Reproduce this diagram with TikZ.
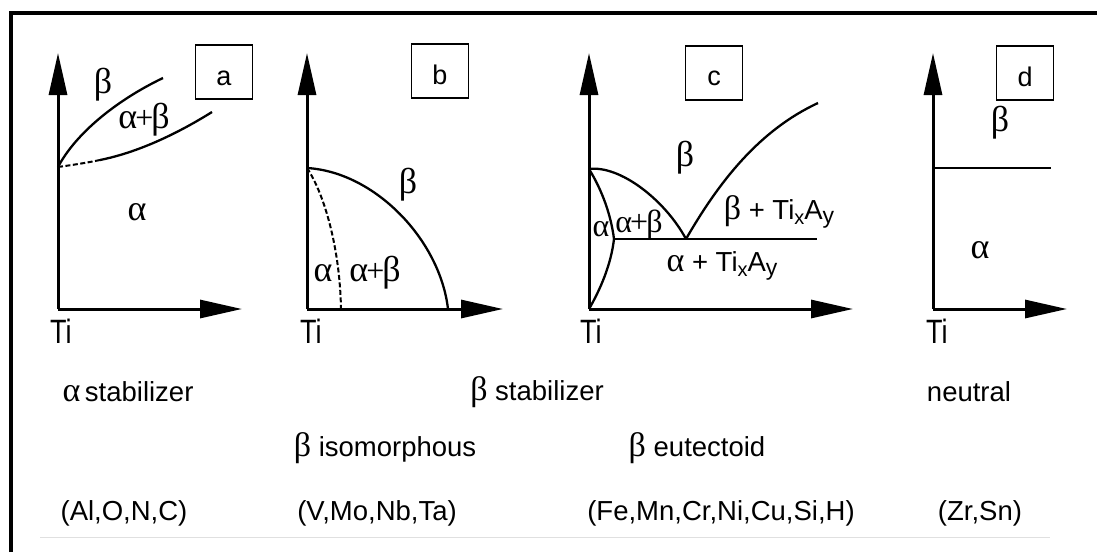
\documentclass[tikz,border=0pt]{standalone}
\usepackage{fontspec}
\setmainfont{Liberation Sans}
\newfontfamily\grk{Liberation Serif}
\usetikzlibrary{arrows.meta}
\tikzset{
  axisline/.style={line width=3pt,-{Triangle[length=42pt,width=18pt]}},
  curve/.style={line width=2.3pt},
  dcurve/.style={line width=2pt,dash pattern=on 5pt off 2.5pt},
  lbox/.style={draw,line width=1.8pt,minimum width=57pt,minimum height=54pt,inner sep=0pt},
  boxlab/.style={inner sep=0pt,font=\fontsize{27}{29}\selectfont},
  gl/.style={inner sep=0pt,font=\grk\fontsize{36}{38}\selectfont},
  tl/.style={inner sep=0pt,font=\fontsize{27.5}{29}\selectfont},
  tilab/.style={inner sep=0pt,font=\fontsize{27}{29}\selectfont},
}
\newcommand{\gsym}[1]{{\grk\fontsize{34}{34}\selectfont #1}}
\newcommand{\apb}{α\kern-2pt{\fontsize{32}{32}\selectfont+}\kern-2pt β}
\newcommand{\TiXA}{Ti\raisebox{-5pt}{\fontsize{20}{20}\selectfont x}A\raisebox{-4pt}{\fontsize{23}{23}\selectfont y}}
\begin{document}
\begin{tikzpicture}[x=1pt,y=-1pt]
\useasboundingbox (0,0) rectangle (1097,552);
\fill[white] (0,0) rectangle (1097,552);
% frame
\draw[line width=4pt] (11,552) -- (11,12.5) -- (1097,12.5);
\draw[line width=0.8pt,black!12] (40,537) -- (1050,537);

% ---------- panel a ----------
\coordinate (oa) at (58,309);
\coordinate (ya) at (58,53);
\coordinate (xa) at (242,309);
\draw[axisline] (oa) -- (ya);
\draw[axisline] (oa) -- (xa);
\coordinate (pa) at (58,167);
\coordinate (pa1) at (163,78);
\coordinate (pa2) at (100,160);
\coordinate (pa3) at (212,112);
\draw[curve] (pa) .. controls (76,133) and (117,100) .. (pa1);
\draw[dcurve] (pa) .. controls (72,165) and (86,163) .. (pa2);
\draw[curve] (pa2) .. controls (140,152) and (180,132) .. (pa3);
\node[lbox] (boxa) at (224,72) {};
\node[boxlab] (la) at (224,78) {a};
\node[gl] (ba) at (103,85) {β};
\node[gl] (aba) at (144,120) {\apb};
\node[gl] (aa) at (137,212) {α};
\node[tilab,anchor=north west] (tia) at (50,319) {\scalebox{1}[1.25]{Ti}};

% ---------- panel b ----------
\coordinate (ob) at (307,309);
\coordinate (yb) at (307,53);
\coordinate (xb) at (503,309);
\draw[axisline] (ob) -- (yb);
\draw[axisline] (ob) -- (xb);
\coordinate (pb) at (307,168);
\coordinate (pb1) at (448,309);
\coordinate (pb2) at (341,309);
\draw[curve] (pb) .. controls (375,172) and (440,240) .. (pb1);
\draw[dcurve] (pb) .. controls (325,195) and (340,250) .. (pb2);
\node[lbox] (boxb) at (440,71) {};
\node[boxlab] (lb) at (440,75) {b};
\node[gl] (bb) at (408,185) {β};
\node[gl] (ab) at (323,273) {α};
\node[gl] (abb) at (375,273) {\apb};
\node[tilab,anchor=north west] (tib) at (300,319) {\scalebox{1}[1.25]{Ti}};

% ---------- panel c ----------
\coordinate (oc) at (589,309);
\coordinate (yc) at (589,53);
\coordinate (xc) at (853,309);
\draw[axisline] (oc) -- (yc);
\draw[axisline] (oc) -- (xc);
\coordinate (pc) at (589,169);
\coordinate (ec) at (686,239);
\coordinate (lc) at (614,239);
\coordinate (rc) at (817,239);
\coordinate (tc) at (818,103);
\draw[curve] (pc) .. controls (620,165) and (665,200) .. (ec);
\draw[curve] (pc) .. controls (602,190) and (611,215) .. (lc);
\draw[curve] (lc) .. controls (611,265) and (600,290) .. (oc);
\draw[curve] (lc) -- (rc);
\draw[curve] (ec) .. controls (720,180) and (760,130) .. (tc);
\node[lbox] (boxc) at (714,73) {};
\node[boxlab] (lcl) at (714,78) {c};
\node[gl] (bc) at (685,158) {β};
\node[gl,font=\grk\fontsize{32}{34}\selectfont] (ac) at (601,229) {α};
\node[gl,font=\grk\fontsize{32}{34}\selectfont] (abc) at (639,225) {\apb};
\node[tl] (btc) at (779,212) {\gsym{β} + \TiXA};
\node[tl] (atc) at (722,266) {\gsym{α} + \TiXA};
\node[tilab,anchor=north west] (tic) at (580,319) {\scalebox{1}[1.25]{Ti}};

% ---------- panel d ----------
\coordinate (od) at (933,309);
\coordinate (yd) at (933,53);
\coordinate (xd) at (1067,309);
\draw[axisline] (od) -- (yd);
\draw[axisline] (od) -- (xd);
\coordinate (pd) at (933,168);
\coordinate (qd) at (1051,168);
\draw[curve] (pd) -- (qd);
\node[lbox] (boxd) at (1025,73) {};
\node[boxlab] (ldl) at (1025,77) {d};
\node[gl] (bd) at (1000,123) {β};
\node[gl] (ad) at (980,250) {α};
\node[tilab,anchor=north west] (tid) at (926,319) {\scalebox{1}[1.25]{Ti}};

% ---------- captions ----------
\node[tl] (asta) at (128,392) {\gsym{α}\,stabilizer};
\node[tl] (bsta) at (537,392) {\gsym{β} stabilizer};
\node[tl] (neut) at (969,392) {neutral};
\node[tl] (biso) at (385,448) {\gsym{β} isomorphous};
\node[tl] (beut) at (697,448) {\gsym{β} eutectoid};
\node[tl] (ela) at (124,513) {(Al,O,N,C)};
\node[tl] (elb) at (377,513) {(V,Mo,Nb,Ta)};
\node[tl] (elc) at (721,513) {(Fe,Mn,Cr,Ni,Cu,Si,H)};
\node[tl] (eld) at (980,513) {(Zr,Sn)};
\end{tikzpicture}
\end{document}
